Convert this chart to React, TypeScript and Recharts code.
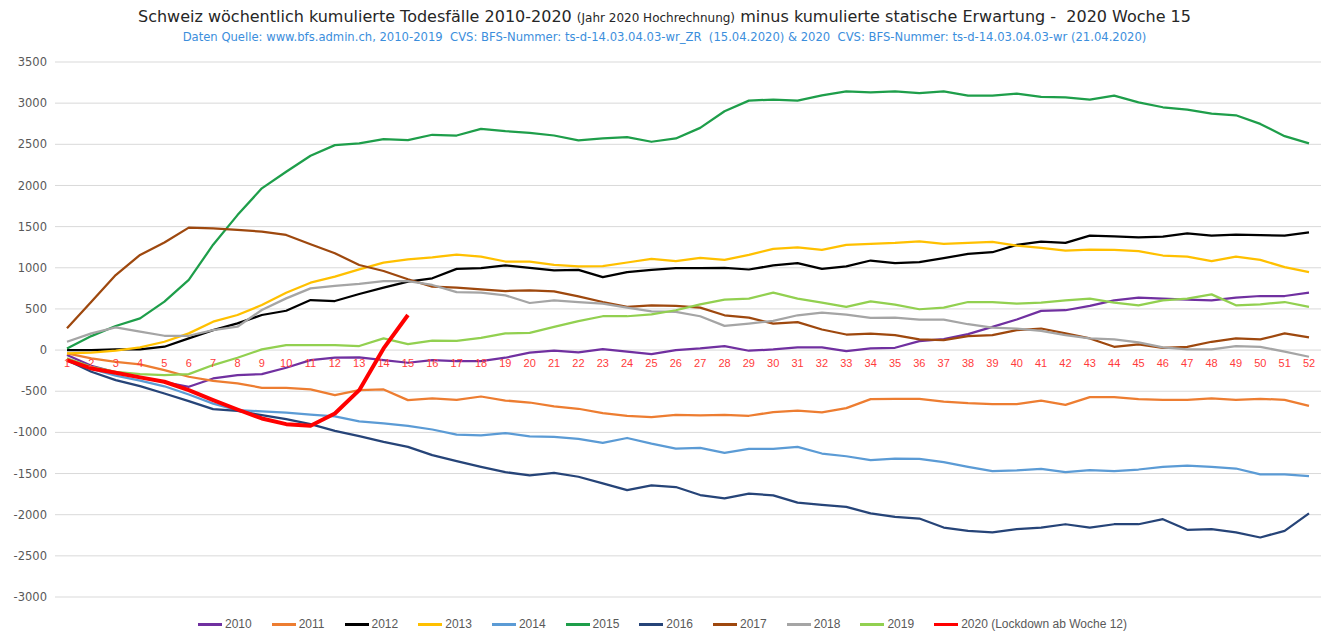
import React from 'react';
import { LineChart, Line, YAxis, XAxis, CartesianGrid, LabelList } from 'recharts';

const weeks = [
  '1', '2', '3', '4', '5', '6', '7', '8', '9', '10', '11', '12', '13', '14', '15', '16', '17', '18', '19', '20', '21', '22', '23', '24', '25', '26',
  '27', '28', '29', '30', '31', '32', '33', '34', '35', '36', '37', '38', '39', '40', '41', '42', '43', '44', '45', '46', '47', '48', '49', '50', '51', '52',
];

const y2010 = [
  -60, -190, -270, -330, -390, -446, -345, -304, -292, -215, -122, -93, -89, -122, -154, -122,
  -133, -133, -93, -32, -8, -28, 12, -20, -48, 0, 20, 48, -8, 8, 32, 32, -12, 20,
  28, 109, 133, 193, 282, 371, 476, 484, 536, 604, 637, 625, 613, 604, 637, 657, 657, 697,
];
const y2011 = [
  -41, -101, -142, -174, -243, -324, -373, -405, -458, -458, -478, -547, -487, -478, -608, -588,
  -605, -564, -613, -637, -685, -713, -766, -798, -814, -786, -794, -786, -798, -754, -737, -758, -705, -596,
  -592, -592, -625, -645, -657, -657, -613, -665, -572, -572, -596, -605, -605, -588, -605, -592, -605, -677,
];
const y2012 = [
  0, 0, 8, 8, 41, 142, 243, 324, 426, 478, 608, 596, 681, 758, 831, 872,
  987, 995, 1028, 999, 967, 975, 887, 947, 975, 995, 995, 999, 979, 1028, 1056, 987, 1016, 1088,
  1056, 1068, 1116, 1169, 1189, 1278, 1318, 1302, 1390, 1382, 1370, 1378, 1419, 1390, 1402, 1398, 1390, 1431,
];
const y2013 = [
  -41, -32, -8, 32, 101, 203, 345, 426, 547, 697, 819, 892, 981, 1062, 1103, 1127,
  1161, 1136, 1076, 1076, 1036, 1016, 1020, 1064, 1108, 1080, 1120, 1096, 1157, 1229, 1249, 1217, 1278, 1290,
  1302, 1322, 1290, 1302, 1314, 1269, 1241, 1209, 1221, 1217, 1201, 1149, 1136, 1080, 1136, 1096, 1008, 947,
];
const y2014 = [
  -110, -230, -310, -370, -440, -540, -650, -730, -745, -760, -785, -805, -865, -890, -920, -965,
  -1028, -1036, -1008, -1048, -1056, -1080, -1128, -1068, -1136, -1197, -1189, -1249, -1201, -1201, -1177, -1257, -1290, -1338,
  -1318, -1322, -1362, -1419, -1471, -1463, -1443, -1483, -1459, -1471, -1451, -1419, -1403, -1419, -1439, -1511, -1511, -1531,
];
const y2015 = [
  20, 170, 292, 385, 588, 852, 1280, 1640, 1965, 2167, 2361, 2490, 2511, 2563, 2551, 2616,
  2607, 2688, 2660, 2640, 2607, 2547, 2571, 2587, 2531, 2571, 2700, 2902, 3031, 3043, 3031, 3095, 3143, 3131,
  3143, 3123, 3143, 3091, 3091, 3115, 3075, 3071, 3043, 3091, 3010, 2950, 2922, 2873, 2853, 2748, 2599, 2511,
];
const y2016 = [
  -122, -264, -365, -438, -527, -620, -718, -738, -791, -839, -900, -981, -1046, -1115, -1176, -1277,
  -1350, -1419, -1483, -1523, -1491, -1539, -1620, -1701, -1644, -1664, -1761, -1801, -1745, -1765, -1854, -1882, -1906, -1983,
  -2027, -2047, -2156, -2196, -2216, -2176, -2156, -2116, -2156, -2116, -2116, -2055, -2184, -2176, -2216, -2277, -2196, -1983,
];
const y2017 = [
  264, 588, 912, 1156, 1306, 1488, 1480, 1460, 1440, 1399, 1285, 1176, 1034, 961, 860, 770,
  758, 737, 717, 725, 713, 653, 584, 524, 544, 536, 516, 423, 395, 322, 339, 250, 189, 201,
  181, 129, 121, 169, 181, 242, 262, 202, 141, 40, 69, 28, 40, 101, 141, 129, 202, 153,
];
const y2018 = [
  101, 203, 276, 223, 174, 174, 243, 284, 487, 628, 750, 779, 803, 839, 839, 791,
  705, 697, 665, 572, 604, 584, 564, 516, 471, 463, 411, 294, 322, 355, 423, 455, 431, 391,
  395, 371, 371, 314, 274, 262, 234, 181, 141, 129, 93, 32, 8, 8, 48, 40, -20, -81,
];
const y2019 = [
  -101, -203, -264, -292, -304, -292, -182, -93, 8, 61, 61, 61, 49, 142, 73, 114,
  113, 149, 202, 210, 282, 351, 411, 411, 435, 484, 556, 613, 625, 697, 625, 576, 524, 592,
  552, 496, 516, 584, 584, 564, 576, 604, 625, 576, 544, 604, 625, 677, 544, 556, 584, 524,
];
const y2020 = [-122, -223, -276, -332, -385, -487, -608, -722, -831, -900, -920, -770, -487, 20, 426];

const yTicks = [-3000, -2500, -2000, -1500, -1000, -500, 0, 500, 1000, 1500, 2000, 2500, 3000, 3500];

const series = [
  { key: 'y2010', name: '2010', color: '#7030A0', values: y2010 },
  { key: 'y2011', name: '2011', color: '#ED7D31', values: y2011 },
  { key: 'y2012', name: '2012', color: '#000000', values: y2012 },
  { key: 'y2013', name: '2013', color: '#FFC000', values: y2013 },
  { key: 'y2014', name: '2014', color: '#5B9BD5', values: y2014 },
  { key: 'y2015', name: '2015', color: '#1E9E4A', values: y2015 },
  { key: 'y2016', name: '2016', color: '#264478', values: y2016 },
  { key: 'y2017', name: '2017', color: '#9E480E', values: y2017 },
  { key: 'y2018', name: '2018', color: '#A5A5A5', values: y2018 },
  { key: 'y2019', name: '2019', color: '#92D050', values: y2019 },
  { key: 'y2020', name: '2020 (Lockdown ab Woche 12)', color: '#FF0000', values: y2020 },
];

const data = weeks.map((week, i) => {
  const row: Record<string, string | number | undefined> = { week, zero: 0 };
  series.forEach((s) => {
    row[s.key] = s.values[i];
  });
  return row;
});

const sans = "'Liberation Sans', Arial, sans-serif";
const wide = "'DejaVu Sans', sans-serif";

export default function App() {
  return (
    <div style={{ position: 'absolute', left: 0, top: 0, width: 1321, height: 635, background: '#fff', fontFamily: sans }}>
      <div style={{ position: 'absolute', top: 7, left: 4, width: 1321, textAlign: 'center', color: '#262626', fontSize: 16, fontFamily: wide, whiteSpace: 'nowrap' }}>
        Schweiz wöchentlich kumulierte Todesfälle 2010-2020 <span style={{ fontSize: 12 }}>(Jahr 2020 Hochrechnung)</span> minus kumulierte statische Erwartung -&nbsp; 2020 Woche 15
      </div>
      <div style={{ position: 'absolute', top: 30, left: 4, width: 1321, textAlign: 'center', color: '#3B8EDC', fontSize: 11.6, fontFamily: wide, whiteSpace: 'pre' }}>
        {'Daten Quelle: www.bfs.admin.ch, 2010-2019  CVS: BFS-Nummer: ts-d-14.03.04.03-wr_ZR  (15.04.2020) & 2020  CVS: BFS-Nummer: ts-d-14.03.04.03-wr (21.04.2020)'}
      </div>
      <LineChart width={1321} height={635} data={data} margin={{ top: 62, right: 0, bottom: 38, left: 0 }}>
        <CartesianGrid vertical={false} stroke="#D9D9D9" />
        <XAxis dataKey="week" hide padding={{ left: 12, right: 12 }} />
        <YAxis
          domain={[-3000, 3500]}
          ticks={yTicks}
          width={55}
          axisLine={false}
          tickLine={false}
          tick={{ fill: '#595959', fontSize: 11.5, fontFamily: wide }}
        />
        {series.map((s) => (
          <Line
            key={s.key}
            dataKey={s.key}
            name={s.name}
            stroke={s.color}
            strokeWidth={s.key === 'y2020' ? 4 : 2.25}
            dot={false}
            isAnimationActive={false}
            strokeLinejoin="round"
          />
        ))}
        <Line dataKey="zero" stroke="transparent" dot={false} isAnimationActive={false}>
          <LabelList dataKey="week" position="bottom" offset={9} fill="#FF3B3B" fontSize={11} fontFamily={sans} />
        </Line>
      </LineChart>
      <div style={{ position: 'absolute', top: 617, left: 2, width: 1321, display: 'flex', justifyContent: 'center', gap: 20, fontSize: 12, color: '#595959' }}>
        {series.map((s) => (
          <div key={s.key} style={{ display: 'flex', alignItems: 'center', gap: 3 }}>
            <span style={{ display: 'inline-block', width: 24, height: 3, background: s.color }} />
            <span>{s.name}</span>
          </div>
        ))}
      </div>
    </div>
  );
}
